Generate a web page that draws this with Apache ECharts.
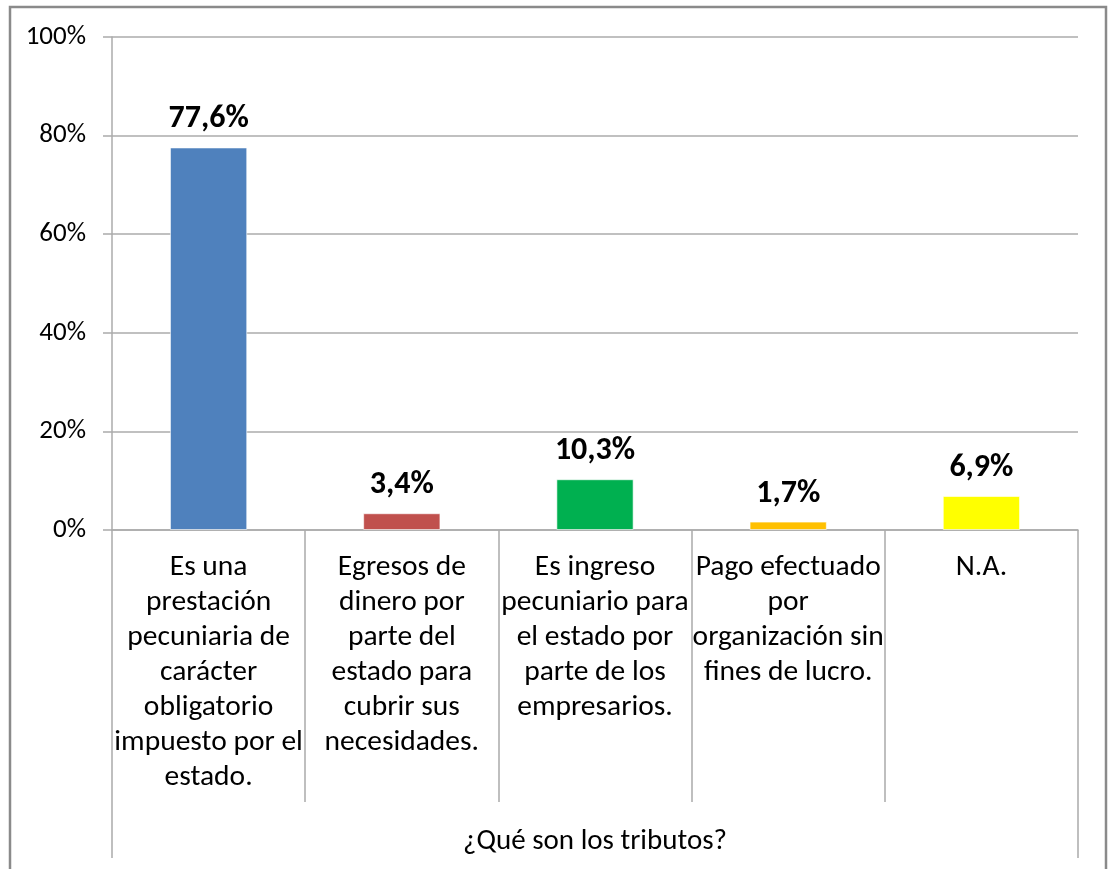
<!DOCTYPE html>
<html>
<head>
<meta charset="utf-8">
<script src="https://cdn.jsdelivr.net/npm/echarts@6/dist/echarts.min.js"></script>
<style>
  html, body { margin: 0; padding: 0; background: #fff; }
  #chart { width: 1114px; height: 869px; }
</style>
</head>
<body>
<div id="chart"></div>
<script>
// categories (labels wrapped the way the original shows them)
const categories = [
  "Es una\nprestación\npecuniaria de\ncarácter\nobligatorio\nimpuesto por el\nestado.",
  "Egresos de\ndinero por\nparte del\nestado para\ncubrir sus\nnecesidades.",
  "Es ingreso\npecuniario para\nel estado por\nparte de los\nempresarios.",
  "Pago efectuado\npor\norganización sin\nfines de lucro.",
  "N.A."
];
const values = [77.6, 3.4, 10.3, 1.7, 6.9];
const barColors = ["#4F81BD", "#C0504D", "#00B050", "#FFC000", "#FFFF00"];
const axisTitle = "¿Qué son los tributos?";

const font = "Carlito, Lato, 'Open Sans', sans-serif";
const lineColor = "#ABABAB";

const chart = echarts.init(document.getElementById("chart"));

const option = {
  backgroundColor: "#fff",
  animation: false,
  graphic: [
    {
      type: "rect",
      shape: { x: 10, y: 7, width: 1096, height: 900 },
      style: { fill: "none", stroke: "#8A8A8A", lineWidth: 2.5 }
    }
  ],
  grid: { left: 112, top: 37, right: 36, bottom: 339, outerBoundsMode: "none", containLabel: false },
  xAxis: [
    {
      type: "category",
      data: categories,
      axisLine: { show: true, lineStyle: { color: lineColor, width: 1.5 } },
      axisTick: { show: true, length: 272, lineStyle: { color: lineColor, width: 1.5 } },
      axisLabel: {
        color: "#000",
        fontFamily: font,
        fontSize: 29.5,
        lineHeight: 35,
        margin: 20,
        interval: 0,
        verticalAlign: "top"
      }
    },
    {
      // only used for the two long outer lines and the axis title
      type: "value",
      position: "bottom",
      min: 0,
      max: 5,
      interval: 5,
      axisLine: { show: false },
      axisTick: { show: true, length: 328, lineStyle: { color: lineColor, width: 1.5 } },
      axisLabel: { show: false },
      splitLine: { show: false },
      name: axisTitle,
      nameLocation: "middle",
      nameGap: 297,
      nameTextStyle: { color: "#000", fontFamily: font, fontSize: 29, verticalAlign: "top" }
    }
  ],
  yAxis: {
    type: "value",
    min: 0,
    max: 100,
    interval: 20,
    axisLine: { show: true, lineStyle: { color: lineColor, width: 1.5 } },
    axisTick: { show: true, length: 9, lineStyle: { color: lineColor, width: 1.5 } },
    splitLine: { lineStyle: { color: lineColor, width: 1.5 } },
    axisLabel: {
      color: "#000",
      fontFamily: font,
      fontSize: 27,
      margin: 26,
      formatter: "{value}%"
    }
  },
  series: [
    {
      type: "bar",
      xAxisIndex: 0,
      data: values.map((v, i) => ({ value: v, itemStyle: { color: barColors[i] } })),
      barWidth: "40%",
      itemStyle: { borderColor: "rgba(255,255,255,0.6)", borderWidth: 1 },
      label: {
        show: true,
        position: "top",
        distance: 12,
        color: "#000",
        fontFamily: font,
        fontWeight: "bold",
        fontSize: 32,
        formatter: (p) => p.value.toFixed(1).replace(".", ",") + "%"
      }
    }
  ]
};

chart.setOption(option);
</script>
</body>
</html>
